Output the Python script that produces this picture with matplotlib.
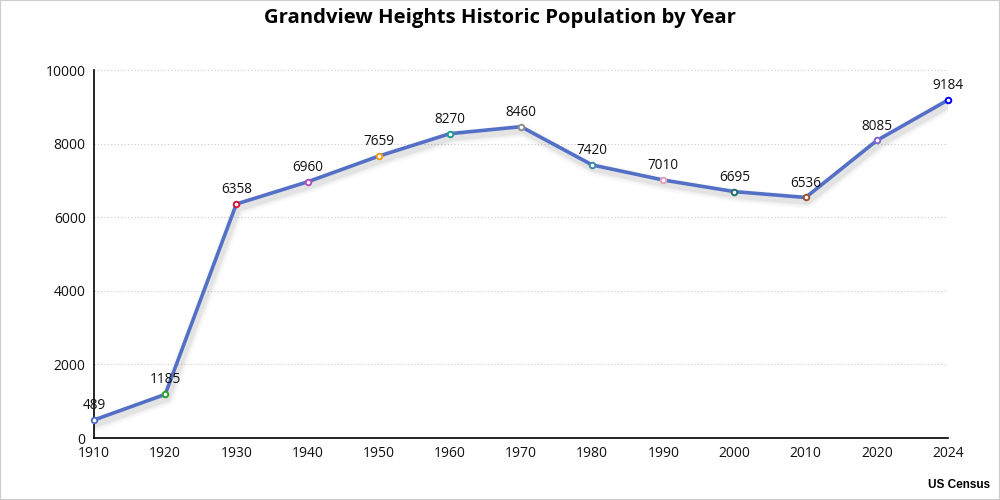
import matplotlib
matplotlib.use("Agg")
import matplotlib.pyplot as plt
import matplotlib.patheffects as pe

years = ["1910", "1920", "1930", "1940", "1950", "1960", "1970", "1980", "1990", "2000", "2010", "2020", "2024"]
population = [489, 1185, 6358, 6960, 7659, 8270, 8460, 7420, 7010, 6695, 6536, 8085, 9184]
marker_colors = ["#5470c6", "#2ca02c", "#dc143c", "#b050c0", "#f39c12", "#1a9e8f", "#909090",
                 "#3a8fa8", "#e8a0b8", "#1f6f6a", "#a0522d", "#8a63d2", "#0000ff"]
yticks = [0, 2000, 4000, 6000, 8000, 10000]

plt.rcParams['font.family'] = ['Open Sans', 'DejaVu Sans']

fig = plt.figure(figsize=(10, 5), dpi=100)
ax = fig.add_axes([0.094, 0.124, 0.854, 0.736])

x = list(range(len(years)))
shadow = [pe.SimpleLineShadow(offset=(1.5, -3), shadow_color="#000000", alpha=a, rho=1, linewidth=w)
          for w, a in [(10, 0.025), (7, 0.035), (4.5, 0.05)]]
ax.plot(x, population, color="#5470c6", lw=2.6, zorder=3,
        path_effects=shadow + [pe.Normal()])
for xi, yi, c in zip(x, population, marker_colors):
    ax.plot([xi], [yi], marker="o", ms=4.0, mfc="white", mec=c, mew=1.4, zorder=4, clip_on=False)
    ax.annotate(str(yi), (xi, yi), xytext=(0, 5), textcoords="offset points",
                ha="center", va="bottom", fontsize=9.8, color="#111111")

ax.set_xlim(0, len(years) - 1)
ax.set_ylim(0, 10000)
ax.set_xticks(x)
ax.set_xticklabels(years)
ax.set_yticks(yticks)
ax.tick_params(axis="y", length=0, labelsize=10, colors="#111111", pad=6)
ax.tick_params(axis="x", length=0, labelsize=10, colors="#111111", pad=6)
ax.grid(axis="y", linestyle=(0, (1, 2)), color="#c8c8c8", lw=0.8)
ax.set_axisbelow(True)
for s in ["top", "right"]:
    ax.spines[s].set_visible(False)
for s in ["left", "bottom"]:
    ax.spines[s].set_color("#000000")
    ax.spines[s].set_linewidth(1.2)

fig.text(0.5, 0.965, "Grandview Heights Historic Population by Year", ha="center", va="center",
         fontsize=14.6, fontweight="bold", color="#000000")
fig.text(0.99, 0.03, "US Census", ha="right", va="center", fontsize=8.5, fontweight="bold",
         family=["Liberation Sans", "DejaVu Sans"], color="#000000")

fig.patches.append(plt.Rectangle((0, 0), 1, 1, transform=fig.transFigure, fill=False,
                                 edgecolor="#cccccc", lw=1.5))

fig.savefig("out.png", dpi=100)
